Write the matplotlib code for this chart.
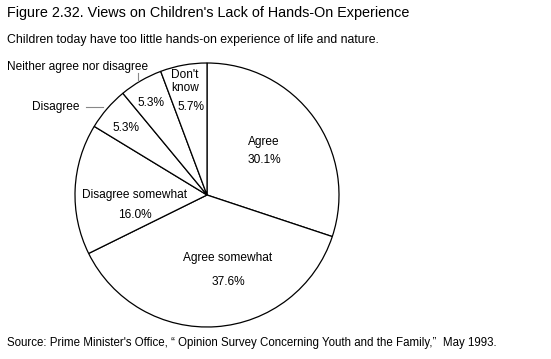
"""Pie chart of views on children's lack of hands-on experience."""
import matplotlib.pyplot as plt

plt.rcParams["font.family"] = ["Liberation Sans", "DejaVu Sans"]

categories = ["Agree", "Agree somewhat", "Disagree somewhat",
              "Disagree", "Neither agree nor disagree", "Don't know"]
shares = [30.1, 37.6, 16.0, 5.3, 5.3, 5.7]

W, H = 551, 359


def py(y):
    # pixel row (from top) -> data y (from bottom)
    return H - y


fig = plt.figure(figsize=(W / 100, H / 100), dpi=100)
ax = fig.add_axes([0, 0, 1, 1])
ax.set_xlim(0, W)
ax.set_ylim(0, H)
ax.set_aspect("equal")
ax.axis("off")

ax.pie(shares, center=(207, py(195)), radius=132, startangle=90,
       counterclock=False, colors=["white"] * len(shares),
       wedgeprops=dict(edgecolor="black", linewidth=0.9))
ax.set_xlim(0, W)
ax.set_ylim(0, H)

fs = 8.6
# labels inside the pie: (text, x, y)
inside = [
    ("Agree", 264, 142), ("30.1%", 264, 160),
    ("Agree somewhat", 228, 258), ("37.6%", 228, 282),
    ("Disagree somewhat", 135, 195), ("16.0%", 135, 215),
    ("5.3%", 126, 128), ("5.3%", 151, 103),
    ("Don't", 185, 75), ("know", 185, 88), ("5.7%", 191, 107),
]
for txt, x, y in inside:
    ax.text(x, py(y), txt, ha="center", va="center", fontsize=fs)

# outside labels with leader lines
ax.text(7, py(67), categories[4], ha="left", va="center", fontsize=fs)
ax.plot([138, 138], [py(73), py(81)], color="#888888", lw=0.8)
ax.text(32, py(107), categories[3], ha="left", va="center", fontsize=fs)
ax.plot([86, 103], [py(107), py(107)], color="#888888", lw=0.8)

ax.text(7, py(13), "Figure 2.32. Views on Children's Lack of Hands-On Experience",
        ha="left", va="center", fontsize=10.4)
ax.text(7, py(40), "Children today have too little hands-on experience of life and nature.",
        ha="left", va="center", fontsize=8.8)
ax.text(7, py(343),
        "Source: Prime Minister's Office, \u201c Opinion Survey Concerning Youth and the Family,\u201d  May 1993.",
        ha="left", va="center", fontsize=8.3)

fig.savefig("out.png", dpi=100)
plt.close(fig)
